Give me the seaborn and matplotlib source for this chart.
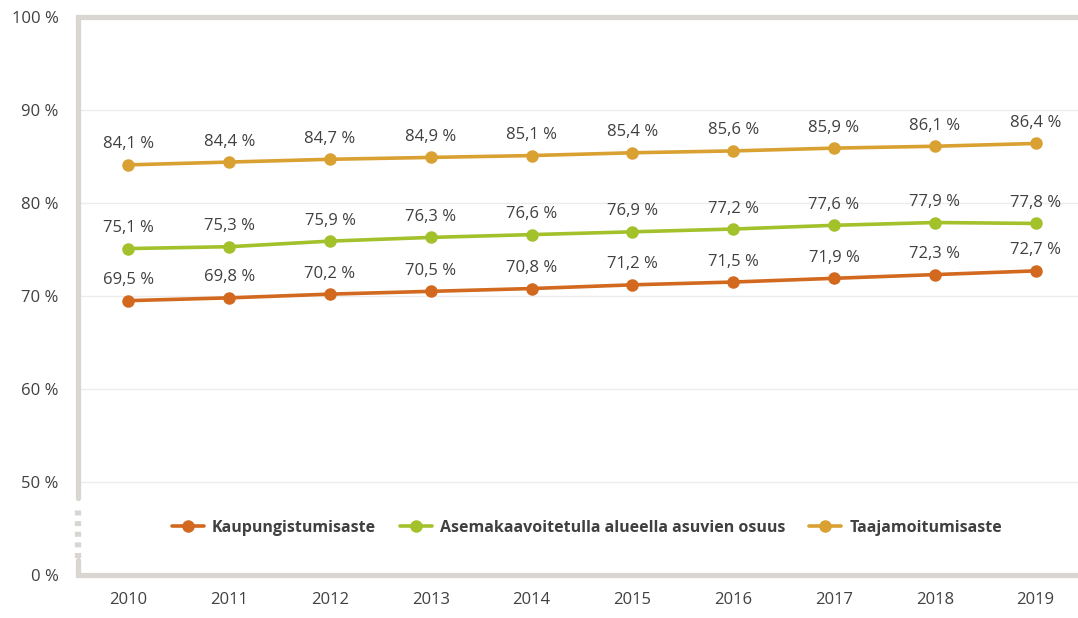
import pandas as pd
import seaborn as sns
import matplotlib.pyplot as plt
import matplotlib.transforms as mtransforms

years = [2010, 2011, 2012, 2013, 2014, 2015, 2016, 2017, 2018, 2019]
kaupungistuminen = [69.5, 69.8, 70.2, 70.5, 70.8, 71.2, 71.5, 71.9, 72.3, 72.7]
asemakaava = [75.1, 75.3, 75.9, 76.3, 76.6, 76.9, 77.2, 77.6, 77.9, 77.8]
taajama = [84.1, 84.4, 84.7, 84.9, 85.1, 85.4, 85.6, 85.9, 86.1, 86.4]
series_names = [
    "Kaupungistumisaste",
    "Asemakaavoitetulla alueella asuvien osuus",
    "Taajamoitumisaste",
]
colors = ["#d2691f", "#a2c12b", "#d9a032"]
y_ticks = [40, 50, 60, 70, 80, 90, 100]
y_tick_labels = ["0 %", "50 %", "60 %", "70 %", "80 %", "90 %", "100 %"]

rows = []
for name, vals in zip(series_names, [kaupungistuminen, asemakaava, taajama]):
    for i, (yr, v) in enumerate(zip(years, vals)):
        rows.append({"idx": i, "year": yr, "value": v, "series": name})
df = pd.DataFrame(rows)

sns.set_theme(style="white")
plt.rcParams["font.family"] = ["Open Sans", "DejaVu Sans"]

fig = plt.figure(figsize=(10.78, 6.18), dpi=100)
ax = fig.add_axes([0.0724, 0.0696, 0.935, 0.9029])

border = "#d9d5d0"
text_c = "#404040"

# light gridlines
for g in [50, 60, 70, 80, 90]:
    ax.axhline(g, color="#ececec", lw=1, zorder=0)

sns.lineplot(
    data=df, x="idx", y="value", hue="series", palette=colors,
    hue_order=series_names, marker="o", markersize=9, markeredgewidth=0,
    linewidth=2.6, ax=ax, legend=True,
)

# data labels
for name, vals in zip(series_names, [kaupungistuminen, asemakaava, taajama]):
    for i, v in enumerate(vals):
        ax.annotate(f"{v:.1f} %".replace(".", ","), (i, v), xytext=(0, 9),
                    textcoords="offset points", ha="center", va="bottom",
                    fontsize=12, color=text_c)

ax.set_xlim(-0.5, 9.5)
ax.set_ylim(40, 100)
ax.set_xticks(range(len(years)))
ax.set_xticklabels([str(y) for y in years])
ax.set_yticks(y_ticks)
ax.set_yticklabels(y_tick_labels)
ax.tick_params(axis="both", length=0, labelsize=12, labelcolor=text_c)
ax.tick_params(axis="y", pad=14)
ax.tick_params(axis="x", pad=12)
ax.set_xlabel("")
ax.set_ylabel("")

for s in ax.spines.values():
    s.set_visible(False)

# frame: top, bottom, broken left edge
trans = mtransforms.blended_transform_factory(ax.transAxes, ax.transData)
lw = 3.8
ax.plot([0, 1], [100, 100], color=border, lw=lw, transform=trans, clip_on=False,
        solid_capstyle="projecting")
ax.plot([0, 1], [40, 40], color=border, lw=lw, transform=trans, clip_on=False,
        solid_capstyle="projecting")
ax.plot([0, 0], [48.3, 100], color=border, lw=lw, transform=trans, clip_on=False)
ax.plot([0, 0], [40, 41.6], color=border, lw=lw, transform=trans, clip_on=False)
ax.plot([0, 0], [41.8, 47.4], color=border, lw=4.5, transform=trans, clip_on=False,
        linestyle=(0, (0.8, 0.9)))

leg = ax.legend(loc="center", bbox_to_anchor=(0.505, 0.085), ncol=3, frameon=False,
                fontsize=11.5, handlelength=2.0, columnspacing=1.5, handletextpad=0.5)
for t in leg.get_texts():
    t.set_color(text_c)
    t.set_fontweight("bold")

fig.savefig("out.png", dpi=100)
